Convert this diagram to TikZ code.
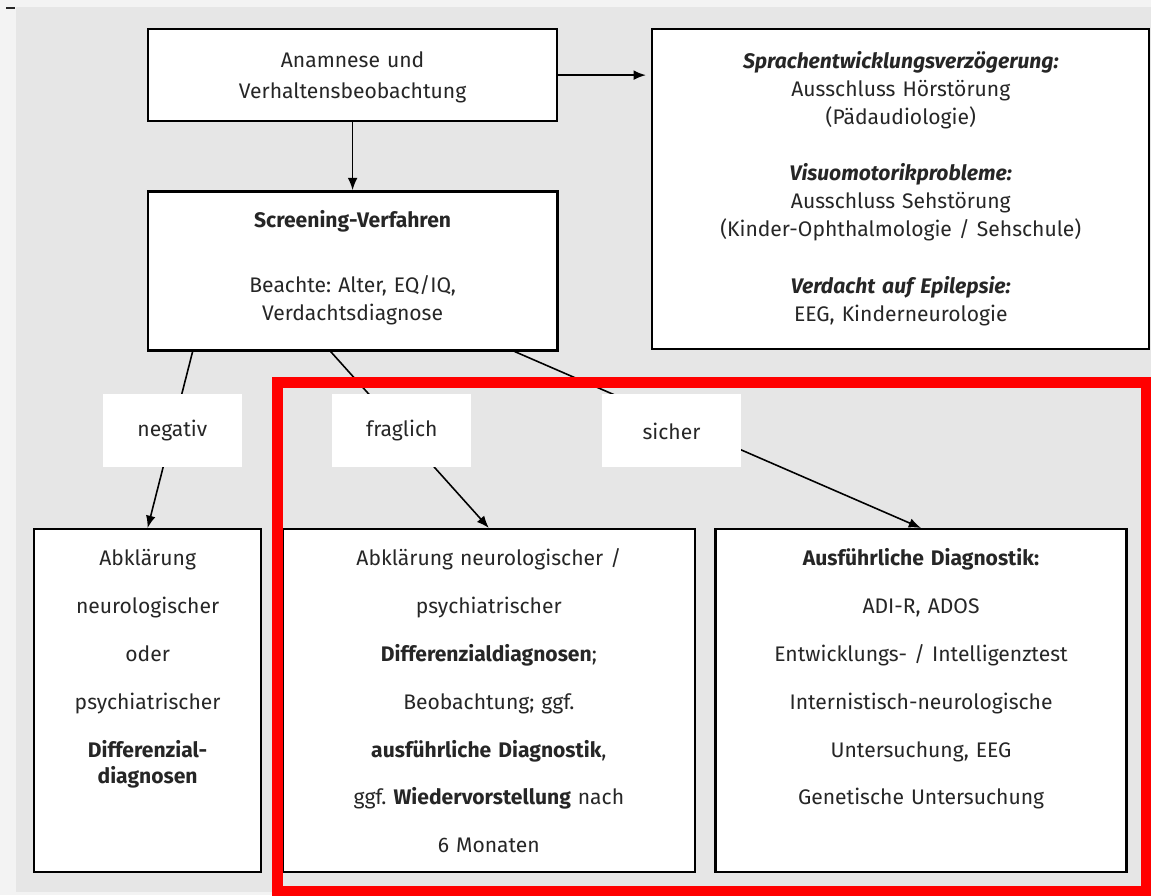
\documentclass[tikz,border=0pt]{standalone}
\usepackage{fontspec}
\setmainfont{Fira Sans}
\usepackage{tikz}
\usetikzlibrary{positioning,arrows.meta}
\definecolor{bggray}{HTML}{E6E6E6}
\definecolor{stripgray}{HTML}{F3F3F3}
\definecolor{markred}{HTML}{FF0000}
\tikzstyle{box}=[rectangle, draw=black, line width=1.3pt, fill=white, anchor=north west, inner sep=0pt, align=center, text=black!85]
\tikzstyle{lbl}=[rectangle, fill=white, minimum width=2.78cm, minimum height=1.46cm, inner sep=0pt, text=black!85]
\tikzset{>={Latex[length=7pt,width=5.5pt]}}
\frenchspacing
\begin{document}
\begin{tikzpicture}[x=0.02cm, y=-0.02cm, font=\fontsize{12}{18}\selectfont]
    \useasboundingbox (0,0) rectangle (1151,895);
    \fill[stripgray] (0,0) rectangle (1151,895);
    \fill[bggray] (16,7) rectangle (1151,892);
    \fill[black!85] (6,7) rectangle (15,9);

        \node(anamnese)[box, text width=8.18cm, text height=0.76cm, text depth=1.08cm] at (147,28) {Anamnese und\\Verhaltensbeobachtung};
        \node(screening)[box, below=1.36cm of anamnese, text width=8.2cm, text height=0.72cm, text depth=2.46cm, font=\fontsize{12}{15.9}\selectfont] {\textbf{Screening-Verfahren}\\[0.74cm]Beachte: Alter, EQ/IQ,\\Verdachtsdiagnose};
        \node(ausschluss)[box, right=1.86cm of anamnese.north east, anchor=north west, text width=9.94cm, text height=0.78cm, text depth=5.62cm, font=\fontsize{12}{15.9}\selectfont] {\textbf{\textit{Sprachentwicklungsverzögerung:}}\\Ausschluss Hörstörung\\(Pädaudiologie)\\[0.58cm]\textbf{\textit{Visuomotorikprobleme:}}\\Ausschluss Sehstörung\\(Kinder-Ophthalmologie / Sehschule)\\[0.58cm]\textbf{\textit{Verdacht auf Epilepsie:}}\\EEG, Kinderneurologie};

        \node(abklaerung)[box, text width=4.54cm, text height=0.72cm, text depth=6.14cm, font=\fontsize{12}{27.3}\selectfont] at (33,528) {Abklärung\\neurologischer\\oder\\psychiatrischer\\\textbf{Differenzial-}\\[-0.42cm]\textbf{diagnosen}};
        \node(beobachtung)[box, right=0.38cm of abklaerung.north east, anchor=north west, text width=8.26cm, text height=0.72cm, text depth=6.14cm, font=\fontsize{12}{27.3}\selectfont] {Abklärung neurologischer /\\psychiatrischer\\\textbf{Differenzialdiagnosen};\\Beobachtung; ggf.\\\textbf{ausführliche Diagnostik},\\ggf. \textbf{Wiedervorstellung} nach\\6 Monaten};
        \node(diagnostik)[box, right=0.36cm of beobachtung.north east, anchor=north west, text width=8.22cm, text height=0.72cm, text depth=6.14cm, font=\fontsize{12}{27.3}\selectfont] {\textbf{Ausführliche Diagnostik:}\\ADI-R, ADOS\\Entwicklungs- / Intelligenztest\\Internistisch-neurologische\\Untersuchung, EEG\\Genetische Untersuchung};

        \draw [->, line width=0.9pt] (anamnese) -- (screening);
        \draw [->, line width=0.9pt, shorten >=3pt] (anamnese.east) -- (anamnese.east -| ausschluss.west);

        \draw [->, line width=0.9pt] ([xshift=-3.2cm]screening.south) -- node[lbl, pos=0.45]{negativ} (abklaerung.north);
        \draw [->, line width=0.9pt] ([xshift=-0.44cm]screening.south) -- node[lbl, pos=0.45]{fraglich} (beobachtung.north);
        \draw [->, line width=0.9pt] ([xshift=3.24cm]screening.south) -- node[lbl, pos=0.45, xshift=-0.52cm]{sicher} (diagnostik.north);

        % Markierung
        \draw [markred, line width=0.22cm] (277,382.5) rectangle (1146.5,891);

    \end{tikzpicture}
\end{document}
